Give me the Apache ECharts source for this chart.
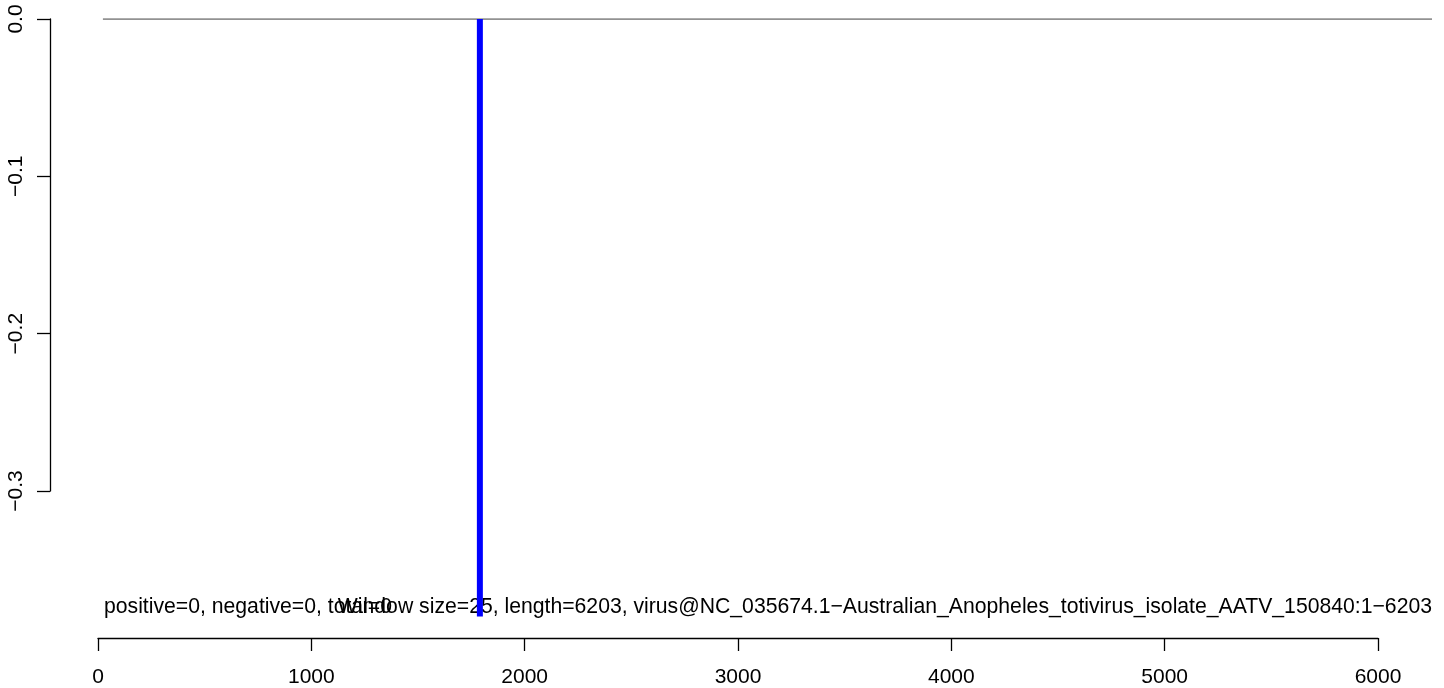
<!DOCTYPE html>
<html>
<head>
<meta charset="utf-8">
<script src="https://cdn.jsdelivr.net/npm/echarts@6/dist/echarts.min.js"></script>
<style>html,body{margin:0;padding:0;background:#fff}#c{width:1444px;height:688px}</style>
</head>
<body>
<div id="c"></div>
<script>
// ---- data ----
var xTicks = [0, 1000, 2000, 3000, 4000, 5000, 6000];
var yTicks = [0, -0.1, -0.2, -0.3];
var baselineX = [23, 6253];
var baselineY = [0, 0];
var spikeX = [1790];
var spikeY = [-0.379];
var leftText = 'positive=0, negative=0, total=0';
var rightText = 'Window size=25, length=6203, virus@NC_035674.1\u2212Australian_Anopheles_totivirus_isolate_AATV_150840:1\u22126203';

var FONT = '"Liberation Sans", Arial, sans-serif';
var FS = 21;
var FST = 21.2;
var chart = echarts.init(document.getElementById('c'), null, {renderer: 'canvas'});
var fmtY = function (v) { return (v < 0 ? '\u2212' : '') + Math.abs(v).toFixed(1); };
var fmtX = function (v) { return String(Math.round(v)); };

var option = {
  animation: false,
  backgroundColor: '#ffffff',
  grid: [
    {left: 98, right: 12, top: 19, height: 599},
    {left: 50, width: 10, top: 19, height: 472},
    {left: 98, width: 1280, top: 600, height: 40}
  ],
  xAxis: [
    {gridIndex: 0, type: 'value', min: 0, max: 6253, show: false},
    {gridIndex: 1, type: 'value', min: 0, max: 1, show: false},
    {gridIndex: 2, type: 'value', min: 0, max: 6000, interval: 1000, position: 'bottom',
      axisLine: {show: true, lineStyle: {color: '#000', width: 1.3}},
      axisTick: {show: true, inside: false, length: 13, lineStyle: {color: '#000', width: 1.3}},
      axisLabel: {show: true, margin: 29, color: '#000', fontSize: FS, fontFamily: FONT, formatter: fmtX},
      splitLine: {show: false}}
  ],
  yAxis: [
    {gridIndex: 0, type: 'value', min: -0.38, max: 0, show: false},
    {gridIndex: 1, type: 'value', min: -0.3, max: 0, interval: 0.1, position: 'left',
      axisLine: {show: true, lineStyle: {color: '#000', width: 1.3}},
      axisTick: {show: true, inside: false, length: 13, lineStyle: {color: '#000', width: 1.3}},
      axisLabel: {show: true, rotate: 90, margin: 23, color: '#000', fontSize: FS, fontFamily: FONT, formatter: fmtY},
      splitLine: {show: false}},
    {gridIndex: 2, type: 'value', min: 0, max: 1, show: false}
  ],
  graphic: [
    {type: 'text', z: 0, left: 104, top: 597,
      style: {text: leftText, fill: '#000', font: FST + 'px ' + FONT}},
    {type: 'text', z: 0, right: 12, top: 597,
      style: {text: rightText, fill: '#000', font: FST + 'px ' + FONT}}
  ],
  series: [
    {type: 'line', xAxisIndex: 0, yAxisIndex: 0, z: 5, symbol: 'none',
      lineStyle: {color: '#6e6e6e', width: 1.5},
      data: baselineX.map(function (x, i) { return [x, baselineY[i]]; })},
    {type: 'bar', xAxisIndex: 0, yAxisIndex: 0, z: 6, barWidth: 6,
      itemStyle: {color: '#0000ff'},
      data: spikeX.map(function (x, i) { return [x, spikeY[i]]; })}
  ]
};
chart.setOption(option);
</script>
</body>
</html>
